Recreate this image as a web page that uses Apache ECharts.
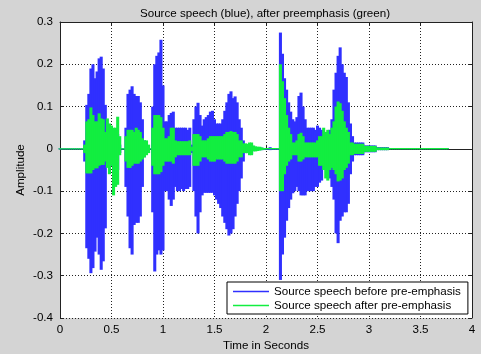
<!DOCTYPE html>
<html>
<head>
<meta charset="utf-8">
<script src="https://cdn.jsdelivr.net/npm/echarts@6/dist/echarts.min.js"></script>
<style>
html,body{margin:0;padding:0;background:#d4d4d4;overflow:hidden;}
#chart{width:481px;height:354px;}
</style>
</head>
<body>
<div id="chart"></div>
<script>
// ---- data, samples every 0.02 s starting at t = 0 ----
const chartTitle = 'Source speech (blue), after preemphasis (green)';
const xName = 'Time in Seconds';
const yName = 'Amplitude';
const seriesNames = ['Source speech before pre-emphasis', 'Source speech after pre-emphasis'];
const sampleStep = 0.02;

// blue: source speech, upper / lower envelope per sample
const blueHi = [
  0,0,0,0,0,0,0,0,0,0,
  0,0,0.02,0.104,0.13,0.19,0.2,0.167,0.183,0.214,
  0.218,0.19,0.104,0.035,0.03,0.03,0.03,0.03,0.035,0.01,
  0,0,0.05,0.13,0.14,0.148,0.13,0.125,0.125,0.11,
  0.07,0.02,0.01,0,0,0.1,0.2,0.22,0.228,0.258,
  0.15,0.065,0.065,0.08,0.085,0.088,0.05,0.05,0.05,0.05,
  0.05,0.05,0.045,0.05,0.01,0.07,0.1,0.109,0.08,0.055,
  0.07,0.075,0.08,0.088,0.09,0.07,0.06,0.06,0.06,0.07,
  0.09,0.11,0.13,0.136,0.12,0.124,0.11,0.07,0.05,0.02,
  0.01,0.01,0.01,0.01,0.005,0.004,0.003,0.003,0.003,0.002,
  0.002,0.002,0.004,0.002,0.002,0.002,0.002,0.275,0.225,0.167,
  0.14,0.11,0.088,0.07,0.065,0.075,0.125,0.133,0.1,0.07,
  0.05,0.05,0.05,0.05,0.045,0.055,0.05,0.045,0.04,0.04,
  0.04,0.045,0.07,0.14,0.18,0.22,0.24,0.2,0.18,0.17,
  0.11,0.06,0.03,0.015,0.015,0.015,0.015,0.015,0.008,0.008,
  0.008,0.008,0.008,0.008,0.004,0.004,0.004,0.004,0.004,0.004,
  0.001,0.001,0.001,0.001,0.001,0.001,0.001,0.001,0.001,0.001,
  0.001,0.001,0.001,0.001,0.001,0.001,0.001,0.001,0.001,0.001,
  0.001,0.001,0.001,0.001,0.001,0.001,0.001,0.001,0.001
];
const blueLo = [
  0,0,0,0,0,0,0,0,0,0,
  0,0,-0.03,-0.235,-0.26,-0.294,-0.282,-0.243,-0.21,-0.25,
  -0.286,-0.266,-0.188,-0.04,-0.045,-0.04,-0.05,-0.05,-0.05,-0.01,
  0,0,-0.09,-0.16,-0.235,-0.25,-0.18,-0.175,-0.175,-0.16,
  -0.09,-0.02,-0.01,0,0,-0.15,-0.29,-0.25,-0.24,-0.25,
  -0.24,-0.1,-0.1,-0.12,-0.135,-0.12,-0.09,-0.1,-0.1,-0.095,
  -0.1,-0.095,-0.095,-0.09,-0.01,-0.1,-0.16,-0.2,-0.15,-0.11,
  -0.104,-0.104,-0.104,-0.104,-0.104,-0.11,-0.12,-0.13,-0.14,-0.16,
  -0.175,-0.19,-0.205,-0.2,-0.19,-0.16,-0.13,-0.1,-0.07,-0.03,
  -0.01,-0.01,-0.012,-0.012,-0.005,-0.004,-0.003,-0.003,-0.003,-0.002,
  -0.002,-0.002,-0.003,-0.002,-0.002,-0.002,-0.002,-0.31,-0.25,-0.21,
  -0.17,-0.14,-0.12,-0.105,-0.1,-0.09,-0.1,-0.11,-0.11,-0.11,
  -0.1,-0.1,-0.1,-0.1,-0.09,-0.09,-0.08,-0.075,-0.05,-0.05,
  -0.06,-0.07,-0.09,-0.12,-0.2,-0.223,-0.17,-0.16,-0.15,-0.15,
  -0.13,-0.06,-0.03,-0.015,-0.015,-0.015,-0.015,-0.015,-0.008,-0.008,
  -0.008,-0.008,-0.008,-0.008,-0.003,-0.003,-0.003,-0.003,-0.003,-0.003,
  0,0,0,0,0,0,0,0,0,0,
  0,0,0,0,0,0,0,0,0,0,
  0,0,0,0,0,0,0,0,0
];
// green: after pre-emphasis, upper / lower envelope per sample
const greenHi = [
  0,0,0,0,0,0,0,0,0,0,
  0,0,0.01,0.065,0.07,0.098,0.08,0.065,0.065,0.084,
  0.072,0.07,0.04,0.072,0.06,0.055,0.05,0.05,0.076,0.03,
  0,0,0.03,0.045,0.045,0.045,0.04,0.05,0.045,0.04,
  0.025,0.02,0.02,0.01,0,0.05,0.08,0.08,0.08,0.075,
  0.05,0.025,0.025,0.03,0.05,0.05,0.02,0.018,0.018,0.018,
  0.018,0.018,0.018,0.02,0.005,0.035,0.035,0.035,0.03,0.02,
  0.02,0.02,0.025,0.03,0.03,0.03,0.03,0.03,0.03,0.03,
  0.035,0.04,0.04,0.042,0.04,0.04,0.035,0.02,0.02,0.013,
  0.013,0.012,0.015,0.015,0.008,0.006,0.005,0.005,0.003,0.002,
  0.002,0.002,0.002,0.002,0.002,0.002,0.002,0.2,0.16,0.12,
  0.08,0.05,0.035,0.015,0.015,0.02,0.035,0.038,0.03,0.015,
  0.015,0.015,0.015,0.015,0.015,0.02,0.03,0.03,0.05,0.04,
  0.045,0.035,0.05,0.065,0.1,0.112,0.108,0.09,0.065,0.05,
  0.04,0.015,0.015,0.012,0.012,0.012,0.012,0.012,0.007,0.007,
  0.007,0.007,0.007,0.007,0.003,0.003,0.003,0.003,0.003,0.003,
  0.002,0.002,0.002,0.002,0.002,0.002,0.002,0.002,0.002,0.002,
  0.002,0.002,0.002,0.002,0.002,0.002,0.002,0.002,0.002,0.002,
  0.002,0.002,0.002,0.002,0.002,0.002,0.002,0.002,0.002
];
const greenLo = [
  0,0,0,0,0,0,0,0,0,0,
  0,0,-0.01,-0.058,-0.058,-0.058,-0.05,-0.046,-0.046,-0.04,
  -0.038,-0.038,-0.03,-0.045,-0.06,-0.04,-0.11,-0.09,-0.085,-0.015,
  0,0,-0.03,-0.045,-0.045,-0.04,-0.035,-0.035,-0.035,-0.03,
  -0.025,-0.02,-0.015,-0.01,0,-0.04,-0.06,-0.06,-0.06,-0.055,
  -0.04,-0.03,-0.03,-0.03,-0.03,-0.035,-0.02,-0.015,-0.015,-0.015,
  -0.015,-0.015,-0.015,-0.015,-0.005,-0.04,-0.04,-0.04,-0.03,-0.02,
  -0.02,-0.02,-0.025,-0.03,-0.03,-0.03,-0.025,-0.025,-0.025,-0.025,
  -0.03,-0.035,-0.035,-0.035,-0.035,-0.035,-0.03,-0.02,-0.02,-0.01,
  -0.01,-0.01,-0.015,-0.015,-0.006,-0.006,-0.005,-0.004,-0.003,-0.002,
  -0.001,-0.001,-0.001,-0.001,-0.001,-0.001,-0.001,-0.1,-0.1,-0.06,
  -0.04,-0.03,-0.025,-0.015,-0.015,-0.015,-0.03,-0.03,-0.025,-0.02,
  -0.02,-0.02,-0.02,-0.02,-0.02,-0.02,-0.04,-0.04,-0.05,-0.07,
  -0.075,-0.05,-0.045,-0.05,-0.06,-0.077,-0.075,-0.07,-0.05,-0.045,
  -0.035,-0.015,-0.015,-0.012,-0.012,-0.012,-0.012,-0.012,-0.007,-0.007,
  -0.007,-0.007,-0.007,-0.007,-0.003,-0.003,-0.003,-0.003,-0.003,-0.003,
  -0.001,-0.001,-0.001,-0.001,-0.001,-0.001,-0.001,-0.001,-0.001,-0.001,
  -0.001,-0.001,-0.001,-0.001,-0.001,-0.001,-0.001,-0.001,-0.001,-0.001,
  -0.001,-0.001,-0.001,-0.001,-0.001,-0.001,-0.001,-0.001,-0.001
];

// ---- build rows [time, high, low] for each sample ----
function envelopeRows(hi, lo) {
  const rows = [];
  for (let i = 0; i < hi.length; i++) rows.push([i * sampleStep, hi[i], lo[i]]);
  return rows;
}

const FONT = '"Liberation Sans", Arial, Helvetica, sans-serif';
const BLUE = '#3030ff';
const GREEN = '#12ee40';
const GRID_LINE = { show: true, lineStyle: { color: '#222', width: 1, type: [1, 2] } };

function makeRender(color) {
  return function (params, api) {
    const t = api.value(0), hi = api.value(1), lo = api.value(2);
    const p1 = api.coord([t - sampleStep / 2, hi]);
    const p2 = api.coord([t + sampleStep / 2, lo]);
    let y = p1[1], h = p2[1] - p1[1];
    if (h < 1) { y -= (1 - h) / 2; h = 1; }
    return {
      type: 'rect',
      shape: { x: p1[0] - 0.5, y: y, width: p2[0] - p1[0] + 1, height: h },
      style: { fill: color }
    };
  };
}

const chart = echarts.init(document.getElementById('chart'), null, { renderer: 'canvas' });
chart.setOption({
  animation: false,
  backgroundColor: '#d4d4d4',
  grid: {
    left: 60, top: 22, width: 412, height: 296,
    containLabel: false, outerBoundsMode: 'none',
    show: true, backgroundColor: '#fff', borderWidth: 0
  },
  graphic: [{
    type: 'text', x: 265, y: 14,
    style: { text: chartTitle, font: '11.6px ' + FONT, fill: '#000', align: 'center', verticalAlign: 'middle' }
  }],
  legend: {
    data: [
      { name: seriesNames[0], itemStyle: { color: BLUE, borderWidth: 0 } },
      { name: seriesNames[1], itemStyle: { color: GREEN, borderWidth: 0 } }
    ],
    orient: 'vertical', left: 227, top: 282,
    backgroundColor: '#fff', borderColor: '#000', borderWidth: 1, borderRadius: 0,
    padding: [3, 7, 2, 6], itemGap: 1, itemWidth: 36, itemHeight: 1.5, icon: 'rect',
    itemStyle: { borderWidth: 0 },
    textStyle: { fontFamily: FONT, fontSize: 11.6, color: '#000', lineHeight: 13 }
  },
  xAxis: [{
    type: 'value', min: 0, max: 4, interval: 0.5,
    name: xName, nameLocation: 'middle', nameGap: 22, nameMoveOverlap: false,
    nameTextStyle: { fontFamily: FONT, fontSize: 11.6, color: '#000' },
    axisLine: { show: true, lineStyle: { color: '#222' } },
    axisTick: { show: true, inside: true, length: 4, lineStyle: { color: '#222' } },
    axisLabel: { margin: 6, fontFamily: FONT, fontSize: 11.6, color: '#000', formatter: v => String(+v.toFixed(1)) },
    splitLine: GRID_LINE
  }, {
    type: 'value', min: 0, max: 4, interval: 0.5, position: 'top',
    axisLine: { show: true, onZero: false, lineStyle: { color: '#222' } },
    axisTick: { show: true, inside: true, length: 4, lineStyle: { color: '#222' } },
    axisLabel: { show: false }, splitLine: { show: false }
  }],
  yAxis: [{
    type: 'value', min: -0.4, max: 0.3, interval: 0.1,
    name: yName, nameLocation: 'middle', nameGap: 33, nameMoveOverlap: false,
    nameTextStyle: { fontFamily: FONT, fontSize: 11.6, color: '#000' },
    axisLine: { show: true, onZero: false, lineStyle: { color: '#222' } },
    axisTick: { show: true, inside: true, length: 4, lineStyle: { color: '#222' } },
    axisLabel: { margin: 7, fontFamily: FONT, fontSize: 11.6, color: '#000', formatter: v => (Math.abs(v) < 1e-9 ? '0' : v.toFixed(1)) },
    splitLine: GRID_LINE
  }, {
    type: 'value', min: -0.4, max: 0.3, interval: 0.1, position: 'right',
    axisLine: { show: true, onZero: false, lineStyle: { color: '#222' } },
    axisTick: { show: true, inside: true, length: 4, lineStyle: { color: '#222' } },
    axisLabel: { show: false }, splitLine: { show: false }
  }],
  series: [{
    name: seriesNames[0], type: 'custom', xAxisIndex: 0, yAxisIndex: 0,
    renderItem: makeRender(BLUE), encode: { x: 0, y: [1, 2] },
    data: envelopeRows(blueHi, blueLo), itemStyle: { color: BLUE }
  }, {
    name: seriesNames[1], type: 'custom', xAxisIndex: 0, yAxisIndex: 0,
    renderItem: makeRender(GREEN), encode: { x: 0, y: [1, 2] },
    data: envelopeRows(greenHi, greenLo), itemStyle: { color: GREEN }
  }]
});
</script>
</body>
</html>
